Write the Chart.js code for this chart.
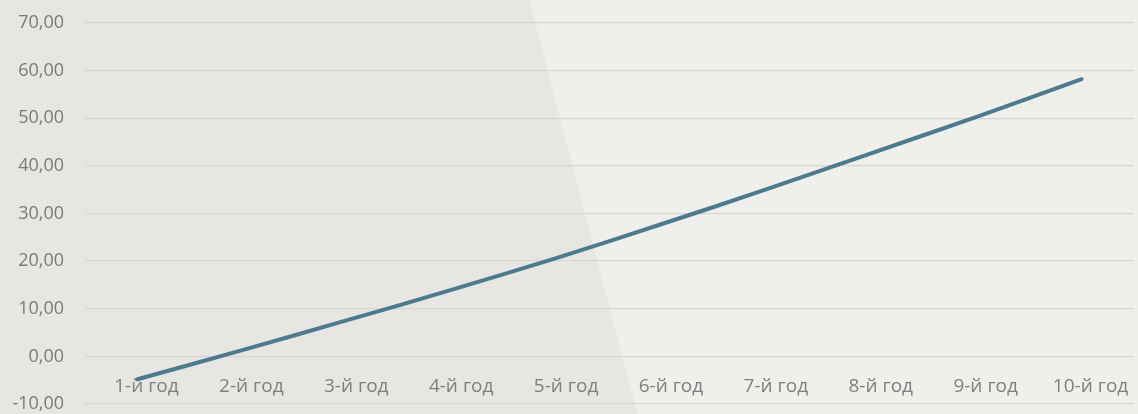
<!DOCTYPE html>
<html>
<head>
<meta charset="utf-8">
<script src="https://cdn.jsdelivr.net/npm/chart.js@4.4.1/dist/chart.umd.min.js"></script>
<style>
  html, body { margin: 0; padding: 0; background: #efefeb; }
  #wrap { width: 1138px; height: 414px; position: relative; }
</style>
</head>
<body>
<div id="wrap"><canvas id="chart"></canvas></div>
<script>
// Year labels along the horizontal axis
const categories = ['1-й год', '2-й год', '3-й год', '4-й год', '5-й год',
                    '6-й год', '7-й год', '8-й год', '9-й год', '10-й год'];
// Cumulative result per year
const values = [-4.8, 1.3, 7.6, 14.0, 20.7, 27.8, 35.1, 42.7, 50.3, 58.2];
// Value axis range and step
const yMin = -10;
const yMax = 70;
const yStep = 10;

// Two-tone background split by a slanted edge
const backdrop = {
  id: 'backdrop',
  beforeDraw(chart) {
    const { ctx, width, height } = chart;
    ctx.save();
    ctx.fillStyle = '#efefeb';
    ctx.fillRect(0, 0, width, height);
    ctx.fillStyle = '#e7e6e2';
    ctx.beginPath();
    ctx.moveTo(0, 0);
    ctx.lineTo(width * 0.465, 0);
    ctx.lineTo(width * 0.56, height);
    ctx.lineTo(0, height);
    ctx.closePath();
    ctx.fill();
    ctx.restore();
  }
};

const fmt = v => v.toFixed(2).replace('.', ',');

new Chart(document.getElementById('chart'), {
  type: 'line',
  data: {
    labels: categories,
    datasets: [{
      data: values,
      borderColor: '#4b7b8d',
      borderWidth: 4,
      borderCapStyle: 'round',
      pointRadius: 0,
      tension: 0.35,
      fill: false
    }]
  },
  plugins: [backdrop],
  options: {
    responsive: true,
    maintainAspectRatio: false,
    animation: false,
    layout: { padding: { top: 23, right: 4, bottom: 10, left: 0 } },
    plugins: { legend: { display: false }, tooltip: { enabled: false } },
    scales: {
      x: {
        type: 'category',
        position: { y: 0 },
        offset: true,
        grid: { display: false },
        border: { display: false },
        afterFit(scale) { scale.height = 0; },
        ticks: {
          color: '#7f7f7f',
          font: { family: 'Open Sans', size: 19 },
          padding: 11,
          labelOffset: 9,
          maxRotation: 0,
          autoSkip: false
        }
      },
      y: {
        min: yMin,
        max: yMax,
        grid: { color: '#d6d6d6', lineWidth: 1.3, drawTicks: false },
        border: { display: false },
        afterFit(scale) {
          scale.width = 85;
          scale.paddingTop = 0;
          scale.paddingBottom = 0;
        },
        ticks: {
          stepSize: yStep,
          color: '#7a7a7a',
          font: { family: 'Open Sans', size: 18 },
          padding: 21,
          callback: v => fmt(v)
        }
      }
    }
  }
});
</script>
</body>
</html>
